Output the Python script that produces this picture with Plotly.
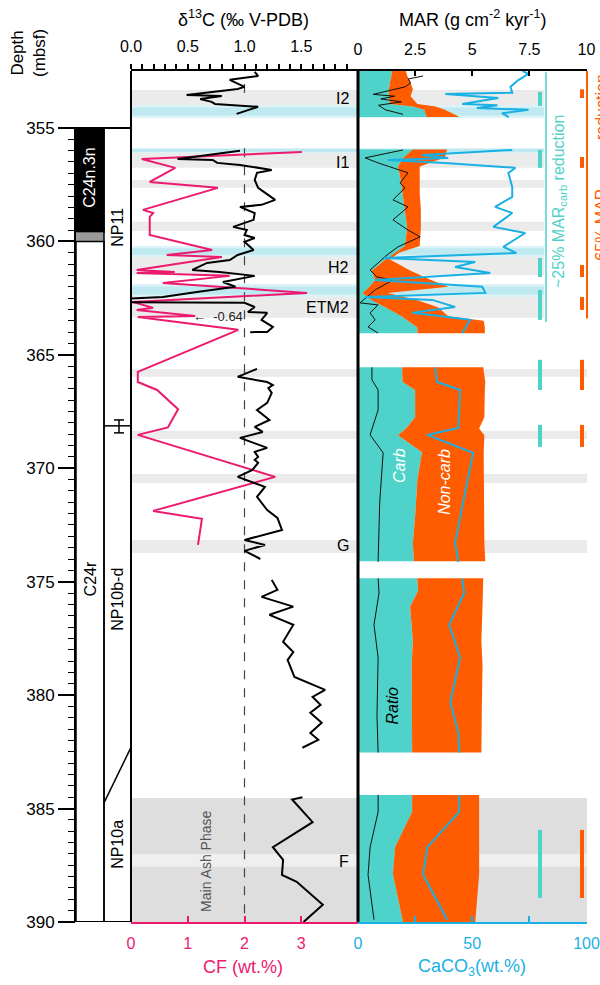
import plotly.graph_objects as go

W, H = 600, 985

# ---------------- data ----------------
# delta13C (permil V-PDB), black line, per core block
d13c_depth_1 = [352.53, 352.71, 352.88, 353.19, 353.28, 353.55, 353.59, 353.72, 353.85, 353.94, 354.07, 354.38]
d13c_value_1 = [1.09, 1.12, 0.87, 1.0, 0.94, 0.49, 0.80, 0.61, 0.71, 0.74, 1.12, 0.93]
d13c_depth_2 = [356.01, 356.37, 356.41, 356.54, 356.63, 356.85, 356.98, 357.29, 357.64, 358.17, 358.39, 358.48, 358.75,
                359.05, 359.36, 359.5, 359.72, 359.85, 360.02, 360.38, 360.6, 360.82, 360.95, 361.26, 361.35, 361.52,
                361.79, 362.0, 362.23, 362.45, 362.67, 362.71, 362.89, 363.11, 363.15, 363.46, 363.77, 363.99, 364.0]
d13c_value_2 = [0.96, 0.41, 0.72, 0.76, 0.96, 1.24, 1.11, 1.09, 1.12, 1.27, 1.15, 0.96, 1.09,
                1.08, 0.90, 1.02, 1.0, 1.09, 1.0, 1.08, 0.94, 0.87, 0.67, 0.54, 0.78, 1.09,
                0.81, 0.92, 0.58, 0.28, -0.64, 1.0, 1.09, 1.03, 1.2, 1.15, 1.25, 1.2, 1.05]
d13c_depth_3 = [365.62, 365.97, 366.2, 366.33, 366.46, 366.68, 367.12, 367.43, 367.87, 368.18, 368.4, 368.66, 369.1,
                369.28, 369.5, 369.63, 369.76, 370.07, 370.38, 370.6, 370.82, 371.26, 371.84, 372.19, 372.72, 373.16,
                373.38, 373.64, 374.0]
d13c_value_3 = [1.11, 0.94, 1.2, 1.25, 1.21, 1.24, 1.2, 1.11, 1.22, 1.09, 1.16, 0.96, 1.2,
                1.09, 1.12, 1.09, 1.12, 1.07, 0.94, 1.07, 1.18, 1.11, 1.2, 1.29, 1.33, 1.0,
                1.18, 1.0, 1.14]
d13c_depth_4 = [374.92, 375.36, 375.67, 376.1, 376.46, 376.9, 377.65, 378.1, 378.45, 379.2, 379.77, 380.08, 380.43,
                380.78, 381.22, 381.67, 381.97, 382.32]
d13c_value_4 = [1.24, 1.29, 1.15, 1.43, 1.22, 1.43, 1.34, 1.43, 1.38, 1.44, 1.71, 1.6, 1.67,
                1.58, 1.68, 1.58, 1.65, 1.51]
d13c_depth_5 = [384.5, 384.6, 385.6, 386.7, 387.26, 387.92, 388.23, 389.24, 390.0]
d13c_value_5 = [1.51, 1.42, 1.6, 1.25, 1.34, 1.33, 1.46, 1.69, 1.52]

# coarse fraction CF (wt.%), pink line
cf_depth = [356.06, 356.37, 356.76, 357.38, 357.64, 358.61, 358.75, 358.92, 359.72, 360.38, 360.6, 360.69, 361.26,
            361.35, 361.39, 361.52, 361.83, 362.27, 362.67, 362.93, 363.02, 363.29, 363.33, 363.9, 365.75, 366.2,
            366.55, 367.4, 368.2, 368.53, 370.38, 371.88, 372.23, 373.38]
cf_value = [3.01, 0.19, 0.78, 0.33, 1.53, 0.21, 0.39, 0.33, 0.33, 1.43, 0.63, 1.6, 0.1,
            0.77, 0.1, 1.74, 0.56, 3.1, 0.04, 0.39, 0.1, 1.13, 0.12, 1.89, 0.12, 0.12,
            0.46, 0.83, 0.65, 0.12, 2.54, 0.39, 1.25, 1.18]

# MAR (g cm-2 kyr-1): carbonate MAR and total MAR (carb + non-carb), per block
mar_depth_1 = [352.49, 352.7, 353.0, 353.3, 353.6, 353.95, 354.05, 354.2, 354.52]
mar_carb_1 = [1.5, 1.45, 1.4, 1.35, 1.35, 1.4, 2.4, 2.9, 3.0]
mar_total_1 = [2.1, 2.15, 2.3, 2.4, 2.3, 2.6, 3.4, 3.8, 4.45]
mar_depth_2 = [355.95, 356.3, 356.7, 357.2, 357.9, 358.6, 359.4, 360.2, 360.5, 360.8, 361.3, 361.7, 362.0,
               362.27, 362.6, 362.9, 363.3, 363.5, 363.8, 364.05]
mar_carb_2 = [2.4, 2.0, 1.75, 1.85, 1.95, 2.05, 2.15, 2.05, 1.6, 1.2, 0.6, 0.75, 0.5,
              0.2, 0.6, 1.2, 1.9, 2.2, 2.6, 2.6]
mar_total_2 = [3.9, 3.8, 2.7, 2.7, 2.7, 2.75, 2.75, 2.7, 1.8, 1.4, 2.3, 3.2, 3.95,
               1.3, 2.6, 3.5, 3.95, 5.5, 5.55, 5.55]
mar_depth_3 = [365.55, 366.2, 366.55, 367.4, 367.75, 368.25, 368.55, 369.3, 370.5, 372.1, 373.3, 374.1]
mar_carb_3 = [1.93, 1.95, 2.5, 2.5, 2.5, 2.1, 1.75, 2.8, 2.6, 2.5, 2.4, 2.45]
mar_total_3 = [5.48, 5.57, 5.55, 5.53, 5.53, 5.3, 5.53, 5.5, 5.5, 5.53, 5.53, 5.57]
mar_depth_4 = [374.85, 375.4, 376.1, 377.6, 378.7, 380.5, 382.53]
mar_carb_4 = [2.59, 2.63, 2.28, 2.4, 2.35, 2.37, 2.37]
mar_total_4 = [5.48, 5.48, 5.45, 5.4, 5.45, 5.42, 5.4]
mar_depth_5 = [384.4, 385.15, 386.7, 387.9, 390.0]
mar_carb_5 = [2.37, 2.37, 1.62, 1.53, 1.97]
mar_total_5 = [5.3, 5.3, 5.3, 5.3, 5.13]

# CaCO3 (wt.%), blue line, per block
caco3_depth_1 = [352.49, 352.62, 352.9, 353.19, 353.45, 353.5, 353.68, 353.94, 354.0, 354.12, 354.2, 354.35, 354.52]
caco3_value_1 = [72, 74.6, 70, 66.7, 67.5, 38.2, 61.4, 45.6, 61, 52, 74.6, 63, 66]
caco3_depth_2 = [355.97, 356.19, 356.32, 356.41, 356.54, 356.76, 356.98, 357.6, 358.04, 358.48, 358.75, 359.36,
                 359.63, 360.24, 360.51, 360.73, 360.91, 361.13, 361.39, 361.7, 362.0, 362.27, 362.45, 362.58,
                 362.89, 363.15, 363.46, 363.77, 364.04]
caco3_value_2 = [67.5, 28, 39.5, 13, 38, 68.9, 65.8, 67.5, 67.5, 60, 67.5, 59.2,
                 73.2, 63.6, 69.3, 11.4, 51.3, 42.5, 57.9, 7.5, 54.4, 55.7, 3.1, 32.5,
                 42.5, 23.7, 49.1, 47.4, 45.6]
caco3_depth_3 = [365.55, 366.2, 366.55, 368.22, 368.53, 369.32, 371.0, 373.29, 374.13]
caco3_value_3 = [33.8, 34.6, 44.7, 43.9, 30.3, 50.4, 47, 42.5, 43.9]
caco3_depth_4 = [374.85, 375.5, 376.9, 378.35, 380.3, 381.65, 382.53]
caco3_value_4 = [45.6, 46.5, 39.9, 44.7, 40.4, 43.9, 44.3]
caco3_depth_5 = [384.4, 385.15, 386.7, 387.92, 389.9]
caco3_value_5 = [44.3, 44.3, 30.3, 28.5, 39]

# carb / non-carb ratio (thin black line, on the MAR scale)
ratio_depth_1 = [352.71, 352.84, 353.02, 353.19, 353.52, 353.6, 353.72, 353.85, 354.0, 354.2, 354.4]
ratio_value_1 = [2.85, 2.2, 2.3, 2.06, 0.66, 1.6, 1.0, 1.9, 0.9, 1.2, 1.97]
ratio_depth_2 = [355.97, 356.32, 356.54, 356.76, 356.98, 357.42, 357.64, 358.17, 358.48, 359.05, 359.5, 359.8,
                 360.24, 360.6, 361.26, 361.57, 361.7, 362.14, 362.71, 362.8, 363.15, 363.46, 363.77, 364.04]
ratio_value_2 = [1.97, 0.31, 0.88, 1.49, 2.19, 1.84, 2.06, 1.53, 2.19, 1.53, 2.19, 2.72,
                 1.75, 1.27, 0.53, 0.83, 1.53, 0.75, 0.09, 0.88, 0.53, 0.75, 0.44, 0.88]
ratio_depth_3 = [365.55, 366.1, 366.55, 367.43, 368.53, 369.32, 371.5, 374.13]
ratio_value_3 = [0.61, 0.61, 0.88, 0.88, 0.53, 1.1, 0.95, 0.88]
ratio_depth_4 = [374.85, 375.5, 376.9, 378.35, 380.9, 382.53]
ratio_value_4 = [0.88, 0.92, 0.7, 0.88, 0.83, 0.88]
ratio_depth_5 = [384.4, 385.15, 386.7, 387.92, 389.9]
ratio_value_5 = [0.88, 0.88, 0.53, 0.44, 0.7]

# event bands (depth intervals)
gray_band_top = [353.33, 356.1, 357.29, 359.14, 360.69, 362.45, 365.62, 368.35, 370.25, 373.16]
gray_band_bot = [353.99, 356.76, 357.64, 359.54, 361.48, 363.37, 365.97, 368.71, 370.65, 373.73]
cyan_band_top = [353.99, 355.88, 360.2, 361.88]
cyan_band_bot = [354.56, 356.1, 360.69, 362.45]
ash_phase = [384.53, 390.0]
f_band = [387.0, 387.57]
event_names = ["I2", "I1", "H2", "ETM2", "G", "F"]
event_depths = [353.68, 356.54, 361.17, 362.93, 373.42, 387.35]

# reduction markers (depth intervals)
carb_marker_top = [353.41, 355.97, 360.73, 362.14, 365.22, 368.09, 385.94]
carb_marker_bot = [354.03, 356.76, 361.57, 363.46, 366.55, 369.06, 388.94]
noncarb_marker_top = [353.3, 356.28, 361.04, 362.45, 365.22, 368.09, 385.94]
noncarb_marker_bot = [353.68, 356.76, 361.57, 363.02, 366.55, 369.06, 388.94]

# magnetostratigraphy and nannofossil zones
chron_normal = [355.0, 359.6]
chron_transition = [359.6, 360.0]
chron_reversed = [360.0, 390.0]
np11_base = 368.13
np11_base_err = [367.87, 368.44]
np10a_top = [384.75, 382.3]

depth_ticks = [355, 360, 365, 370, 375, 380, 385, 390]
d13c_ticks = [0.0, 0.5, 1.0, 1.5]
cf_ticks = [0, 1, 2, 3]
mar_ticks = [0, 2.5, 5, 7.5, 10]
caco3_ticks = [0, 50, 100]
caco3_minor_ticks = [25, 75]

# ---------------- style ----------------
FONT = "Liberation Sans, Arial, Helvetica, sans-serif"
PINK = "#ec1a6e"
TURQ = "#4fd2c9"
ORANGE = "#ff5b00"
BLUE = "#19b1e4"
GRAY_BAND = "#ebebeb"
ASH = "#dedede"

def px(x):
    return x / W

def py(y):
    return 1 - y / H

TOP_DEPTH, BOT_DEPTH = 352.49, 390.0

fig = go.Figure()

# right panel: stacked MAR fills
blocks = [(mar_depth_1, mar_carb_1, mar_total_1), (mar_depth_2, mar_carb_2, mar_total_2),
          (mar_depth_3, mar_carb_3, mar_total_3), (mar_depth_4, mar_carb_4, mar_total_4),
          (mar_depth_5, mar_carb_5, mar_total_5)]
for dep, carb, tot in blocks:
    fig.add_trace(go.Scatter(x=carb, y=dep, xaxis="x2", yaxis="y", mode="lines", fill="tozerox",
                             fillcolor=TURQ, line=dict(width=0, color=TURQ), hoverinfo="skip", showlegend=False))
    fig.add_trace(go.Scatter(x=tot, y=dep, xaxis="x2", yaxis="y", mode="lines", fill="tonextx",
                             fillcolor=ORANGE, line=dict(width=0, color=ORANGE), hoverinfo="skip", showlegend=False))

for dep, val in [(ratio_depth_1, ratio_value_1), (ratio_depth_2, ratio_value_2), (ratio_depth_3, ratio_value_3),
                 (ratio_depth_4, ratio_value_4), (ratio_depth_5, ratio_value_5)]:
    fig.add_trace(go.Scatter(x=val, y=dep, xaxis="x2", yaxis="y", mode="lines",
                             line=dict(width=1, color="#111"), showlegend=False))

for dep, val in [(caco3_depth_1, caco3_value_1), (caco3_depth_2, caco3_value_2), (caco3_depth_3, caco3_value_3),
                 (caco3_depth_4, caco3_value_4), (caco3_depth_5, caco3_value_5)]:
    fig.add_trace(go.Scatter(x=val, y=dep, xaxis="x5", yaxis="y", mode="lines",
                             line=dict(width=2, color=BLUE), showlegend=False))

# left panel
fig.add_trace(go.Scatter(x=cf_value, y=cf_depth, xaxis="x", yaxis="y", mode="lines",
                         line=dict(width=2, color=PINK), showlegend=False))
for dep, val in [(d13c_depth_1, d13c_value_1), (d13c_depth_2, d13c_value_2), (d13c_depth_3, d13c_value_3),
                 (d13c_depth_4, d13c_value_4), (d13c_depth_5, d13c_value_5)]:
    fig.add_trace(go.Scatter(x=val, y=dep, xaxis="x4", yaxis="y", mode="lines",
                             line=dict(width=2, color="black"), showlegend=False))

shapes = []
L_EDGE, MID, R_EDGE = 131, 358, 586.5

def band_right(depth):
    return 544 if depth < 364.5 else 587

# ash phase and bands
shapes.append(dict(type="rect", xref="paper", yref="y", x0=px(L_EDGE), x1=px(587), y0=ash_phase[0], y1=ash_phase[1],
                   fillcolor=ASH, line=dict(width=0), layer="below"))
shapes.append(dict(type="rect", xref="paper", yref="y", x0=px(L_EDGE), x1=px(587), y0=f_band[0], y1=f_band[1],
                   fillcolor="#efefef", line=dict(width=0), layer="below"))
for t, b in zip(gray_band_top, gray_band_bot):
    shapes.append(dict(type="rect", xref="paper", yref="y", x0=px(L_EDGE), x1=px(band_right(t)), y0=t, y1=b,
                       fillcolor=GRAY_BAND, line=dict(width=0), layer="below"))
for t, b in zip(cyan_band_top, cyan_band_bot):
    shapes.append(dict(type="rect", xref="paper", yref="y", x0=px(L_EDGE), x1=px(band_right(t)), y0=t, y1=b,
                       fillcolor="#dcf3f7", line=dict(width=0), layer="below"))
    m = (t + b) / 2
    h = (b - t) * 0.3
    shapes.append(dict(type="rect", xref="paper", yref="y", x0=px(L_EDGE), x1=px(band_right(t)), y0=m - h, y1=m + h,
                       fillcolor="#bfe9f0", line=dict(width=0), layer="below"))

# dashed reference line delta13C = 1.0 (CF = 2)
shapes.append(dict(type="line", xref="x", yref="y", x0=2, x1=2, y0=355.9, y1=BOT_DEPTH,
                   line=dict(color="#444", width=1.2, dash="dash"), layer="below"))
shapes.append(dict(type="line", xref="x", yref="y", x0=2, x1=2, y0=353.06, y1=353.72,
                   line=dict(color="#444", width=1.2, dash="dash"), layer="below"))

# panel frame lines
shapes.append(dict(type="line", xref="paper", yref="y", x0=px(L_EDGE), x1=px(L_EDGE), y0=TOP_DEPTH, y1=BOT_DEPTH,
                   line=dict(color="black", width=2)))
shapes.append(dict(type="line", xref="paper", yref="y", x0=px(MID), x1=px(MID), y0=TOP_DEPTH, y1=BOT_DEPTH,
                   line=dict(color="black", width=3)))

# reduction lines and markers
shapes.append(dict(type="line", xref="paper", yref="y", x0=px(546), x1=px(546), y0=TOP_DEPTH + 0.05, y1=363.55,
                   line=dict(color=TURQ, width=1.6)))
shapes.append(dict(type="line", xref="paper", yref="y", x0=px(587), x1=px(587), y0=TOP_DEPTH, y1=363.4,
                   line=dict(color=ORANGE, width=2)))
for t, b in zip(carb_marker_top, carb_marker_bot):
    shapes.append(dict(type="line", xref="paper", yref="y", x0=px(540), x1=px(540), y0=t, y1=b,
                       line=dict(color=TURQ, width=4)))
for t, b in zip(noncarb_marker_top, noncarb_marker_bot):
    shapes.append(dict(type="line", xref="paper", yref="y", x0=px(582), x1=px(582), y0=t, y1=b,
                       line=dict(color=ORANGE, width=4)))

# depth axis line and stratigraphic columns
shapes.append(dict(type="line", xref="paper", yref="y", x0=px(75), x1=px(75), y0=355, y1=390,
                   line=dict(color="black", width=2)))
shapes.append(dict(type="rect", xref="paper", yref="y", x0=px(76), x1=px(104), y0=chron_normal[0], y1=chron_normal[1],
                   fillcolor="black", line=dict(color="black", width=1.5)))
shapes.append(dict(type="rect", xref="paper", yref="y", x0=px(76), x1=px(104), y0=chron_transition[0],
                   y1=chron_transition[1], fillcolor="#9a9a9a", line=dict(width=0)))
shapes.append(dict(type="rect", xref="paper", yref="y", x0=px(76), x1=px(104), y0=chron_reversed[0],
                   y1=chron_reversed[1], fillcolor="rgba(0,0,0,0)", line=dict(color="black", width=1.5)))
shapes.append(dict(type="rect", xref="paper", yref="y", x0=px(104), x1=px(L_EDGE), y0=355, y1=390,
                   fillcolor="rgba(0,0,0,0)", line=dict(color="black", width=1.5)))
shapes.append(dict(type="line", xref="paper", yref="y", x0=px(104), x1=px(L_EDGE), y0=np11_base, y1=np11_base,
                   line=dict(color="black", width=1.5)))
shapes.append(dict(type="line", xref="paper", yref="y", x0=px(119), x1=px(119), y0=np11_base_err[0], y1=np11_base_err[1],
                   line=dict(color="black", width=1.5)))
for e in np11_base_err:
    shapes.append(dict(type="line", xref="paper", yref="y", x0=px(114), x1=px(124), y0=e, y1=e,
                       line=dict(color="black", width=1.5)))
shapes.append(dict(type="line", xref="paper", yref="y", x0=px(104), x1=px(L_EDGE), y0=np10a_top[0], y1=np10a_top[1],
                   line=dict(color="black", width=1.5)))
shapes.append(dict(type="line", xref="paper", yref="y", x0=px(75), x1=px(L_EDGE), y0=355, y1=355,
                   line=dict(color="black", width=2)))
shapes.append(dict(type="line", xref="paper", yref="y", x0=px(75), x1=px(L_EDGE), y0=390, y1=390,
                   line=dict(color="black", width=2)))

anns = []

def ann(text, x, y, size=16, color="black", angle=0, yref="paper", **kw):
    d = dict(text=text, xref="paper", yref=yref, x=px(x), y=(py(y) if yref == "paper" else y),
             showarrow=False, font=dict(family=FONT, size=size, color=color), textangle=angle,
             xanchor="center", yanchor="middle")
    d.update(kw)
    anns.append(d)

ann("δ<sup>13</sup>C (‰ V-PDB)", 243, 18, 18)
ann("MAR (g cm<sup>-2</sup> kyr<sup>-1</sup>)", 472, 18, 18)
ann("CF (wt.%)", 243, 967, 18, PINK)
ann("CaCO<sub>3</sub>(wt.%)", 472, 967, 18, BLUE)
ann("Depth<br>(mbsf)", 28, 53, 17, angle=-90)

for name, dep in zip(event_names, event_depths):
    ann(name, 351, dep, 16, yref="y", xanchor="right")

ann("←  -0.64", 218, 363.29, 13, "#222", yref="y")
ann("Main Ash Phase", 206, 387.35, 14, "#555", angle=-90, yref="y")
ann("<i>Carb</i>", 400, 369.9, 16, "white", angle=-90, yref="y")
ann("<i>Non-carb</i>", 445, 370.6, 16, "white", angle=-90, yref="y")
ann("<i>Ratio</i>", 392, 380.5, 16, "black", angle=-90, yref="y")
ann("~25% MAR<sub>carb</sub> reduction", 560, 202, 16, TURQ, angle=-90)
ann("~65% MAR<sub>non-carb</sub> reduction", 602, 172, 16, ORANGE, angle=-90)

ann("C24n.3n", 90, 357.2, 16, "white", angle=-90, yref="y")
ann("C24r", 90, 374.9, 16, angle=-90, yref="y")
ann("NP11", 118, 359.4, 16, angle=-90, yref="y")
ann("NP10b-d", 118, 375.8, 16, angle=-90, yref="y")
ann("NP10a", 118, 386.6, 16, angle=-90, yref="y")

minor_depth = [355 + 0.5 * i for i in range(71) if (355 + 0.5 * i) % 5 != 0]
minor_d13c = [round(0.1 * i, 1) for i in range(1, 20) if i % 5 != 0]

fig.update_layout(
    width=W, height=H, autosize=False,
    margin=dict(l=0, r=0, t=0, b=0, pad=0),
    paper_bgcolor="white", plot_bgcolor="rgba(0,0,0,0)",
    font=dict(family=FONT, size=16, color="black"),
    showlegend=False,
    shapes=shapes, annotations=anns,
    yaxis=dict(domain=[py(922), py(71)], range=[BOT_DEPTH, TOP_DEPTH], anchor="free", position=px(75),
               side="left", automargin=False,
               tickmode="array", tickvals=depth_ticks, ticks="outside", ticklen=17, tickwidth=1.5,
               tickcolor="black", showline=False, showgrid=False, zeroline=False,
               tickfont=dict(size=17, color="black"),
               minor=dict(tickmode="array", tickvals=minor_depth, ticks="outside", ticklen=7,
                          tickwidth=1.2, tickcolor="black", showgrid=False)),
    xaxis=dict(domain=[px(L_EDGE), px(MID)], range=[0, 4], anchor="y", side="bottom", automargin=False,
               tickmode="array", tickvals=cf_ticks, ticks="inside", ticklen=6, tickwidth=2, tickcolor=PINK,
               showline=True, linecolor=PINK, linewidth=2, showgrid=False, zeroline=False,
               tickfont=dict(size=16, color=PINK), ticklabelstandoff=6),
    xaxis2=dict(domain=[px(MID), px(R_EDGE)], range=[0, 10], anchor="y", side="top", automargin=False,
                tickmode="array", tickvals=mar_ticks, ticktext=["0", "2.5", "5", "7.5", "10"],
                ticks="inside", ticklen=5, tickwidth=1.5, tickcolor="black",
                showline=True, linecolor="black", linewidth=2, showgrid=False, zeroline=False,
                tickfont=dict(size=16, color="black"), ticklabelstandoff=8),
    xaxis4=dict(overlaying="x", range=[0, 2], anchor="y", side="top", automargin=False,
                tickmode="array", tickvals=d13c_ticks, ticktext=["0.0", "0.5", "1.0", "1.5"],
                ticks="outside", ticklen=5, tickwidth=1.5, tickcolor="black",
                showline=True, linecolor="black", linewidth=2, showgrid=False, zeroline=False,
                tickfont=dict(size=16, color="black"), ticklabelstandoff=6,
                minor=dict(tickmode="array", tickvals=minor_d13c, ticks="outside", ticklen=5,
                           tickwidth=1.5, tickcolor="black", showgrid=False)),
    xaxis5=dict(overlaying="x2", range=[0, 100], anchor="y", side="bottom", automargin=False,
                tickmode="array", tickvals=caco3_ticks,
                ticks="inside", ticklen=6, tickwidth=2, tickcolor=BLUE,
                showline=True, linecolor=BLUE, linewidth=2, showgrid=False, zeroline=False,
                tickfont=dict(size=16, color=BLUE), ticklabelstandoff=6,
                minor=dict(tickmode="array", tickvals=caco3_minor_ticks, ticks="inside", ticklen=6,
                           tickwidth=2, tickcolor=BLUE, showgrid=False)),
)

fig.write_html("out.html")
